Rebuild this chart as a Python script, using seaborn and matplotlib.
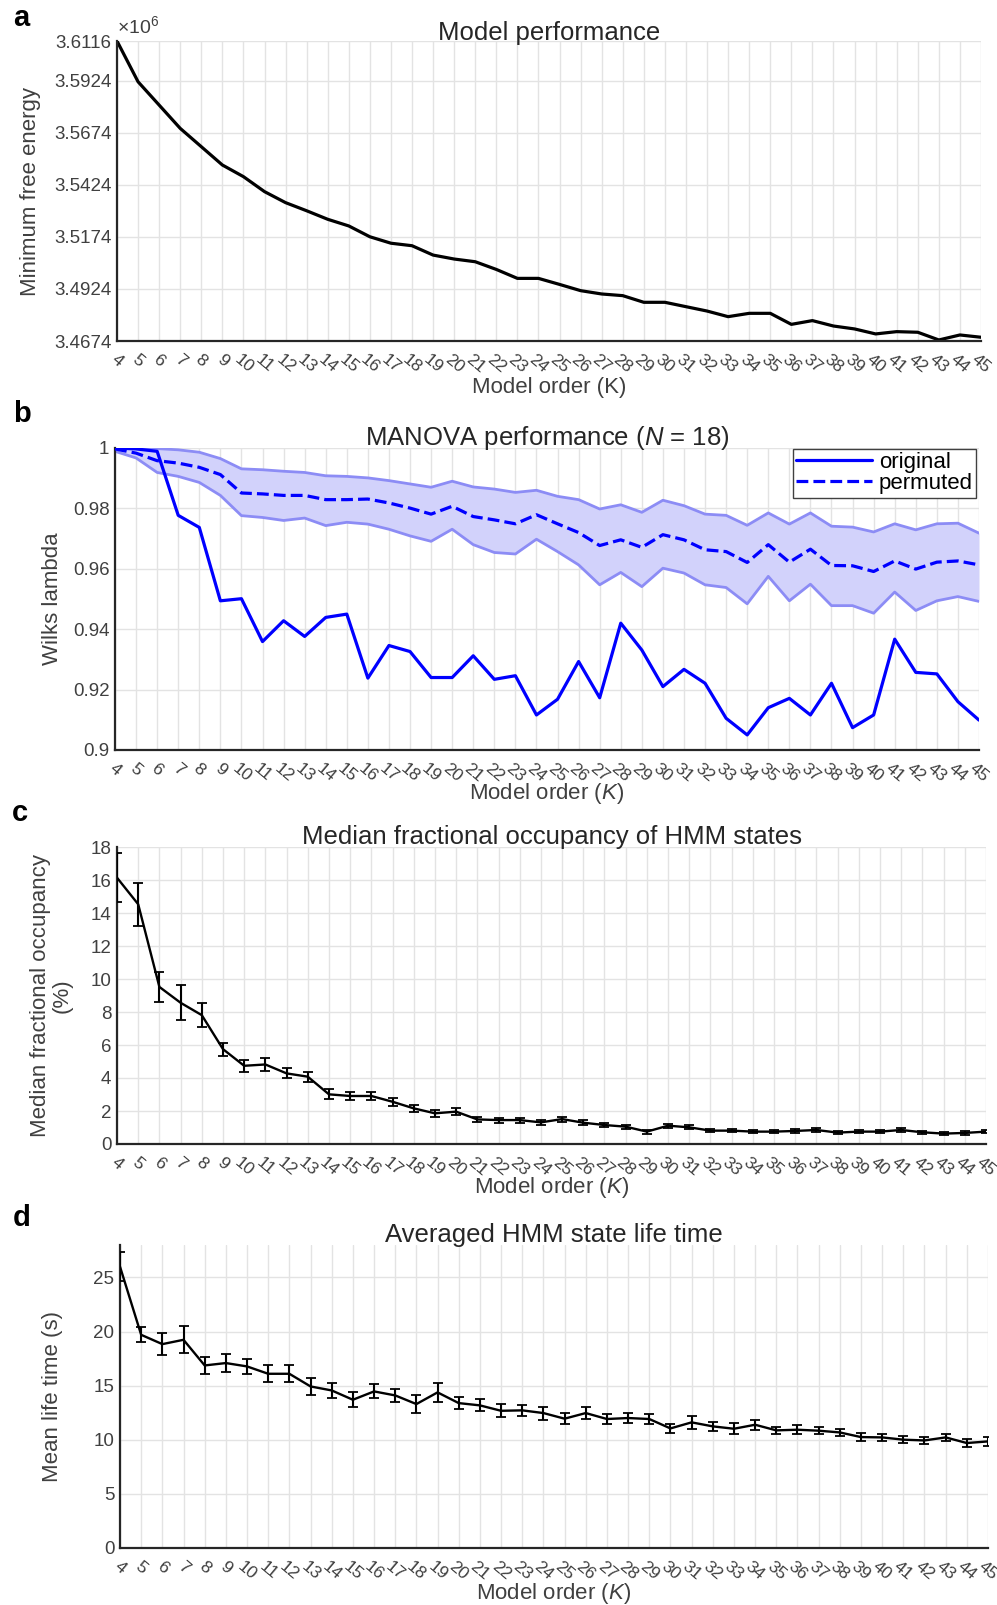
import numpy as np
import pandas as pd
import matplotlib
matplotlib.use('Agg')
import matplotlib.pyplot as plt
import seaborn as sns

# ---------------- data ----------------
K = list(range(4, 46))
k_labels = [str(k) for k in K]

free_energy = [3.6116, 3.5920, 3.5808, 3.5696, 3.5608, 3.5520, 3.5464, 3.5392, 3.5339, 3.5300,
               3.5259, 3.5227, 3.5175, 3.5144, 3.5132, 3.5087, 3.5068, 3.5055, 3.5018, 3.4975,
               3.4975, 3.4946, 3.4916, 3.4900, 3.4892, 3.4860, 3.4860, 3.4839, 3.4818, 3.4791,
               3.4807, 3.4807, 3.4754, 3.4772, 3.4746, 3.4732, 3.4708, 3.4719, 3.4716, 3.4679,
               3.4703, 3.4692]  # x10^6
fe_ticks = [3.4674, 3.4924, 3.5174, 3.5424, 3.5674, 3.5924, 3.6116]

wilks_original = [1.0000, 0.9997, 0.9989, 0.9777, 0.9737, 0.9494, 0.9501, 0.9359, 0.9428, 0.9376,
                  0.9439, 0.9450, 0.9238, 0.9346, 0.9326, 0.9240, 0.9240, 0.9312, 0.9234, 0.9246,
                  0.9116, 0.9168, 0.9293, 0.9173, 0.9420, 0.9331, 0.9210, 0.9267, 0.9221, 0.9105,
                  0.9050, 0.9140, 0.9171, 0.9116, 0.9221, 0.9074, 0.9116, 0.9367, 0.9257, 0.9252,
                  0.9160, 0.9099]
wilks_permuted = [0.9997, 0.9983, 0.9958, 0.9950, 0.9936, 0.9912, 0.9851, 0.9848, 0.9843, 0.9843,
                  0.9829, 0.9829, 0.9831, 0.9818, 0.9801, 0.9781, 0.9807, 0.9773, 0.9762, 0.9749,
                  0.9779, 0.9749, 0.9720, 0.9677, 0.9696, 0.9671, 0.9713, 0.9696, 0.9663, 0.9657,
                  0.9621, 0.9680, 0.9622, 0.9665, 0.9611, 0.9610, 0.9591, 0.9626, 0.9599, 0.9622,
                  0.9626, 0.9613]
wilks_perm_upper = [1.0000, 1.0000, 0.9998, 0.9994, 0.9986, 0.9965, 0.9931, 0.9928, 0.9923, 0.9919,
                    0.9908, 0.9906, 0.9901, 0.9892, 0.9881, 0.9870, 0.9890, 0.9871, 0.9864, 0.9853,
                    0.9860, 0.9840, 0.9829, 0.9798, 0.9812, 0.9787, 0.9827, 0.9809, 0.9781, 0.9777,
                    0.9744, 0.9785, 0.9748, 0.9785, 0.9741, 0.9738, 0.9722, 0.9749, 0.9729, 0.9749,
                    0.9751, 0.9718]
wilks_perm_lower = [0.9989, 0.9967, 0.9919, 0.9906, 0.9886, 0.9843, 0.9776, 0.9770, 0.9760, 0.9768,
                    0.9743, 0.9754, 0.9748, 0.9731, 0.9709, 0.9691, 0.9731, 0.9680, 0.9654, 0.9649,
                    0.9698, 0.9657, 0.9613, 0.9547, 0.9588, 0.9541, 0.9602, 0.9586, 0.9547, 0.9538,
                    0.9484, 0.9575, 0.9494, 0.9549, 0.9478, 0.9478, 0.9453, 0.9523, 0.9462, 0.9494,
                    0.9508, 0.9492]
wilks_ticks = [0.9, 0.92, 0.94, 0.96, 0.98, 1.0]
wilks_ticklabels = ['0.9', '0.92', '0.94', '0.96', '0.98', '1']

fo_median = [16.14, 14.53, 9.52, 8.56, 7.81, 5.75, 4.74, 4.82, 4.28, 4.08,
             3.01, 2.91, 2.91, 2.56, 2.16, 1.86, 1.96, 1.49, 1.45, 1.45,
             1.31, 1.51, 1.29, 1.15, 1.05, 0.75, 1.11, 1.01, 0.81, 0.81,
             0.75, 0.75, 0.79, 0.85, 0.69, 0.75, 0.75, 0.85, 0.71, 0.63,
             0.67, 0.75]
fo_err = [1.50, 1.30, 0.90, 1.05, 0.72, 0.40, 0.37, 0.37, 0.30, 0.30,
          0.30, 0.25, 0.25, 0.25, 0.22, 0.20, 0.20, 0.15, 0.15, 0.15,
          0.15, 0.15, 0.15, 0.12, 0.12, 0.12, 0.12, 0.12, 0.10, 0.10,
          0.10, 0.10, 0.10, 0.10, 0.10, 0.10, 0.10, 0.10, 0.10, 0.10,
          0.10, 0.10]

lifetime_mean = [26.0, 19.7, 18.84, 19.24, 16.87, 17.09, 16.78, 16.10, 16.10, 14.93,
                 14.56, 13.70, 14.47, 14.10, 13.30, 14.38, 13.39, 13.18, 12.68, 12.72,
                 12.47, 11.95, 12.47, 11.92, 12.01, 11.92, 11.05, 11.61, 11.24, 11.02,
                 11.39, 10.87, 10.93, 10.84, 10.68, 10.25, 10.22, 10.01, 9.94, 10.22,
                 9.70, 9.85]
lifetime_err = [1.35, 0.70, 1.00, 1.25, 0.80, 0.80, 0.70, 0.80, 0.80, 0.80,
                0.70, 0.70, 0.65, 0.60, 0.80, 0.90, 0.55, 0.55, 0.60, 0.50,
                0.60, 0.50, 0.55, 0.45, 0.50, 0.50, 0.40, 0.60, 0.40, 0.50,
                0.45, 0.35, 0.40, 0.30, 0.35, 0.35, 0.30, 0.30, 0.30, 0.35,
                0.35, 0.40]

# ---------------- style ----------------
sns.set_theme(style="whitegrid")
FONT = ['Liberation Sans', 'DejaVu Sans']
plt.rcParams['font.family'] = FONT
plt.rcParams['mathtext.fontset'] = 'custom'
plt.rcParams['mathtext.rm'] = 'Liberation Sans'
plt.rcParams['mathtext.it'] = 'Liberation Sans:italic'

TXT = '#262626'
TICKC = '#404040'
GRID = '#e3e3e3'

W, H = 997, 1605
fig = plt.figure(figsize=(W / 100, H / 100), dpi=100)
fig.patch.set_facecolor('white')


def make_ax(x0, y0, x1, y1):
    return fig.add_axes([x0 / W, 1 - y1 / H, (x1 - x0) / W, (y1 - y0) / H])


def style_ax(ax, ylim, yticks, yticklabels=None):
    ax.set_facecolor('white')
    ax.set_xlim(K[0], K[-1])
    ax.set_ylim(*ylim)
    ax.set_xticks(K)
    ax.set_xticklabels(k_labels, rotation=-40, ha='center', va='top',
                       fontsize=12.5, color=TICKC)
    ax.set_yticks(yticks)
    if yticklabels is not None:
        ax.set_yticklabels(yticklabels)
    ax.tick_params(axis='y', labelsize=13.5, labelcolor=TICKC)
    ax.tick_params(direction='in', length=6, width=1.4, color=TXT, pad=4)
    ax.tick_params(axis='x', pad=8)
    ax.grid(True, color=GRID, lw=1.0)
    for s in ['top', 'right']:
        ax.spines[s].set_visible(False)
    for s in ['left', 'bottom']:
        ax.spines[s].set_visible(True)
        ax.spines[s].set_color(TXT)
        ax.spines[s].set_linewidth(1.6)


def labels(ax, title, xlabel, ylabel, title_y, xlabel_y, ylabel_x, y0, y1, x0, x1):
    ax.set_title(title, fontsize=18.5, color=TXT, y=(y1 - title_y) / (y1 - y0), va='center', pad=0)
    ax.set_xlabel(xlabel, fontsize=16, color=TICKC)
    ax.xaxis.set_label_coords(0.5, (y1 - xlabel_y) / (y1 - y0))
    ax.xaxis.label.set_va('center')
    ax.set_ylabel(ylabel, fontsize=16, color=TICKC, linespacing=1.05)
    ax.yaxis.set_label_coords((ylabel_x - x0) / (x1 - x0), 0.5)
    ax.yaxis.label.set_va('center')


# ---------------- panel a ----------------
ax = make_ax(117, 41, 981, 341)
sns.lineplot(x=K, y=free_energy, ax=ax, color='black', lw=2.3)
style_ax(ax, (fe_ticks[0], fe_ticks[-1]), fe_ticks, [f'{t:.4f}' for t in fe_ticks])
labels(ax, 'Model performance', 'Model order (K)', 'Minimum free energy', 33, 387, 31, 41, 341, 117, 981)
ax.text(0.0, 1.05, r'$\times10^{6}$', transform=ax.transAxes, ha='left', va='center',
        fontsize=14, color=TICKC)
fig.text(21 / W, 1 - 18 / H, 'a', fontsize=21, fontweight='bold', ha='center', va='center', color='black')

# ---------------- panel b ----------------
ax = make_ax(115, 448, 979, 750)
blue = '#0000ff'
ax.fill_between(K, wilks_perm_lower, wilks_perm_upper, color='#d2d2fb', lw=0, zorder=1)
sns.lineplot(x=K, y=wilks_perm_upper, ax=ax, color='#8c8cf5', lw=2.0, zorder=2)
sns.lineplot(x=K, y=wilks_perm_lower, ax=ax, color='#8c8cf5', lw=2.0, zorder=2)
sns.lineplot(x=K, y=wilks_original, ax=ax, color=blue, lw=2.3, label='original', zorder=4)
sns.lineplot(x=K, y=wilks_permuted, ax=ax, color=blue, lw=2.3, linestyle='--', label='permuted', zorder=3)
style_ax(ax, (0.9, 1.0), wilks_ticks, wilks_ticklabels)
labels(ax, r'MANOVA performance ($N$ = 18)', r'Model order ($K$)', 'Wilks lambda', 438, 793, 53, 448, 750, 115, 979)
leg = ax.legend(loc='upper right', bbox_to_anchor=(0.9965, 0.997), fontsize=16, frameon=True, fancybox=False,
                framealpha=1, edgecolor='#404040', handlelength=3.4, handletextpad=0.3,
                borderpad=0.15, labelspacing=0.0, borderaxespad=0.0)
leg.get_frame().set_linewidth(1.0)
for t in leg.get_texts():
    t.set_color('black')
fig.text(22 / W, 1 - 414 / H, 'b', fontsize=21, fontweight='bold', ha='center', va='center', color='black')

# ---------------- panel c ----------------
ax = make_ax(117, 847, 986, 1144)
sns.lineplot(x=K, y=fo_median, ax=ax, color='black', lw=1.7, zorder=3)
ax.errorbar(K, fo_median, yerr=fo_err, fmt='none', ecolor='black', elinewidth=1.5, capsize=3.5,
            capthick=1.3, zorder=3)
style_ax(ax, (0, 18), list(range(0, 19, 2)))
labels(ax, 'Median fractional occupancy of HMM states', r'Model order ($K$)',
       'Median fractional occupancy\n(%)', 837, 1188, 51, 847, 1144, 117, 986)
fig.text(20 / W, 1 - 813 / H, 'c', fontsize=21, fontweight='bold', ha='center', va='center', color='black')

# ---------------- panel d ----------------
ax = make_ax(120, 1245, 988, 1548)
sns.lineplot(x=K, y=lifetime_mean, ax=ax, color='black', lw=1.7, zorder=3)
ax.errorbar(K, lifetime_mean, yerr=lifetime_err, fmt='none', ecolor='black', elinewidth=1.5, capsize=3.5,
            capthick=1.3, zorder=3)
style_ax(ax, (0, 28), list(range(0, 26, 5)))
labels(ax, 'Averaged HMM state life time', r'Model order ($K$)', 'Mean life time (s)',
       1235, 1593, 53, 1245, 1548, 120, 988)
fig.text(22 / W, 1 - 1218 / H, 'd', fontsize=21, fontweight='bold', ha='center', va='center', color='black')

fig.savefig('out.png', dpi=100, facecolor='white')
